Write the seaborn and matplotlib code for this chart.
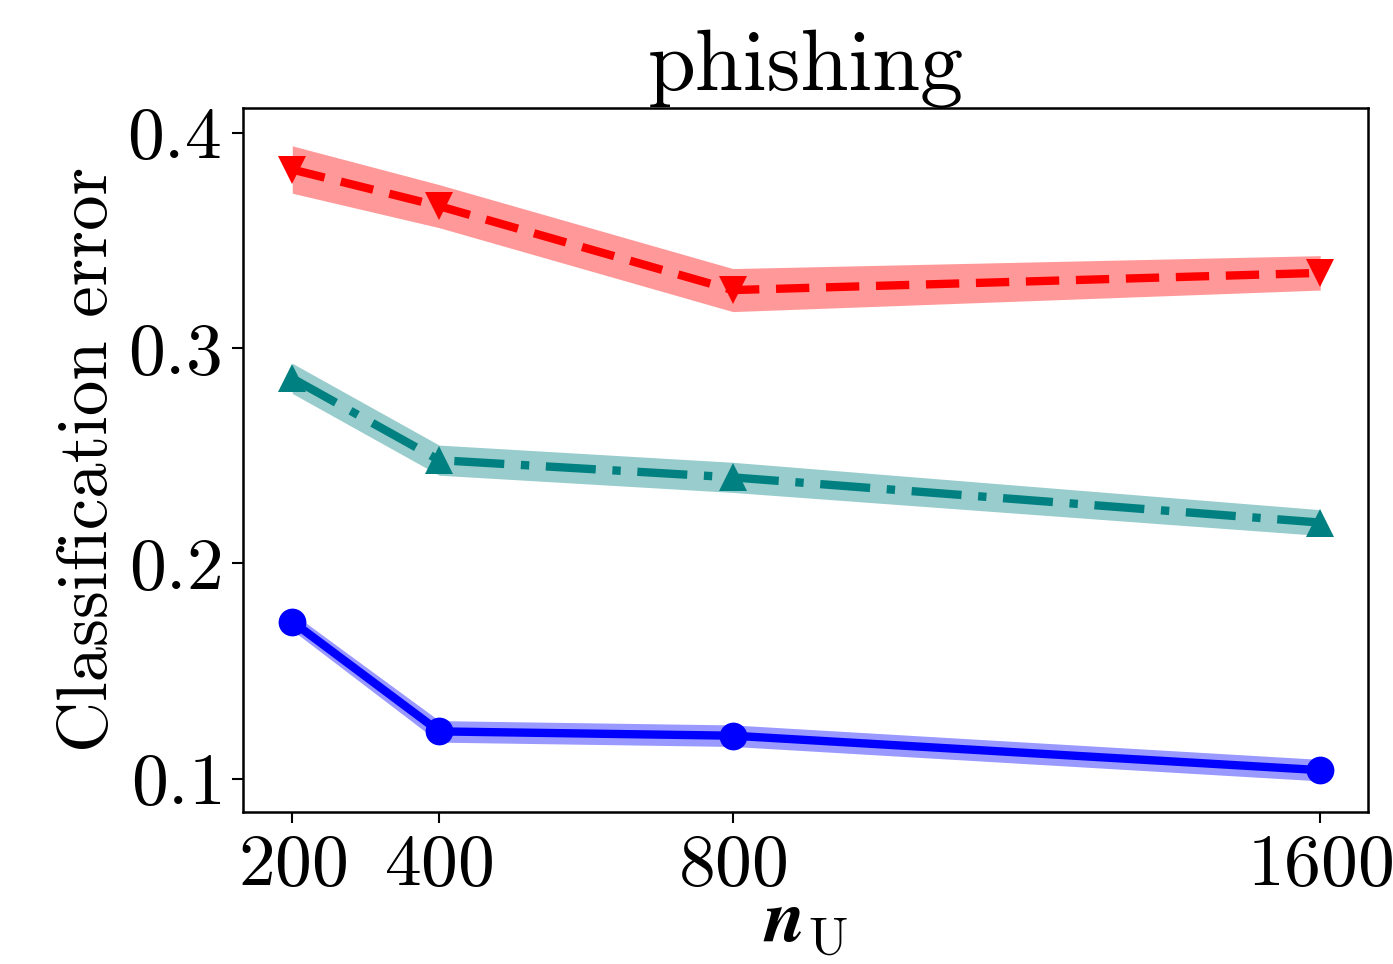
import seaborn as sns
import pandas as pd
import matplotlib.pyplot as plt

n_u = [200, 400, 800, 1600]

red_mean = [0.383, 0.366, 0.327, 0.335]
red_std = [0.011, 0.010, 0.010, 0.008]
teal_mean = [0.286, 0.248, 0.240, 0.219]
teal_std = [0.007, 0.007, 0.007, 0.006]
blue_mean = [0.173, 0.122, 0.120, 0.104]
blue_std = [0.004, 0.005, 0.005, 0.005]

sns.set_style('ticks')
plt.rcParams['font.family'] = 'serif'
plt.rcParams['font.serif'] = ['cmr10', 'DejaVu Serif']
plt.rcParams['mathtext.fontset'] = 'cm'
plt.rcParams['axes.formatter.use_mathtext'] = True
plt.rcParams['text.color'] = 'black'
plt.rcParams['axes.labelcolor'] = 'black'
plt.rcParams['xtick.color'] = 'black'
plt.rcParams['ytick.color'] = 'black'
plt.rcParams['axes.edgecolor'] = 'black'

fig = plt.figure(figsize=(13.93, 9.64), dpi=100)
ax = fig.add_axes([0.1745, 0.158, 0.8075, 0.73])

series = [
    (red_mean, red_std, 'red', 'v', (4, 2)),
    (teal_mean, teal_std, 'teal', '^', (6, 2, 1, 2)),
    (blue_mean, blue_std, 'blue', 'o', ''),
]

for mean, std, color, marker, dashes in series:
    df = pd.DataFrame({'n': n_u, 'err': mean})
    lo = [m - s for m, s in zip(mean, std)]
    hi = [m + s for m, s in zip(mean, std)]
    ax.fill_between(n_u, lo, hi, color=color, alpha=0.4, linewidth=0)
    sns.lineplot(data=df, x='n', y='err', color=color, marker=marker,
                 markersize=20, markeredgewidth=0, linewidth=6, ax=ax)
    if dashes:
        ax.lines[-1].set_dashes(dashes)

ax.set_xticks(n_u)
ax.set_yticks([0.1, 0.2, 0.3, 0.4])
ax.set_ylim(0.0847, 0.4116)
ax.set_xlim(133, 1665)
ax.tick_params(labelsize=53, length=8, width=1.5, direction='out', pad=8)
for s in ax.spines.values():
    s.set_linewidth(1.8)
ax.set_title('phishing', fontsize=62, pad=0)
ax.set_ylabel('Classification error', fontsize=51, labelpad=4)
ax.set_xlabel(r'$\mathbfit{n}_{\mathrm{U}}$', fontsize=54, labelpad=-5)

fig.savefig('out.png', dpi=100)
